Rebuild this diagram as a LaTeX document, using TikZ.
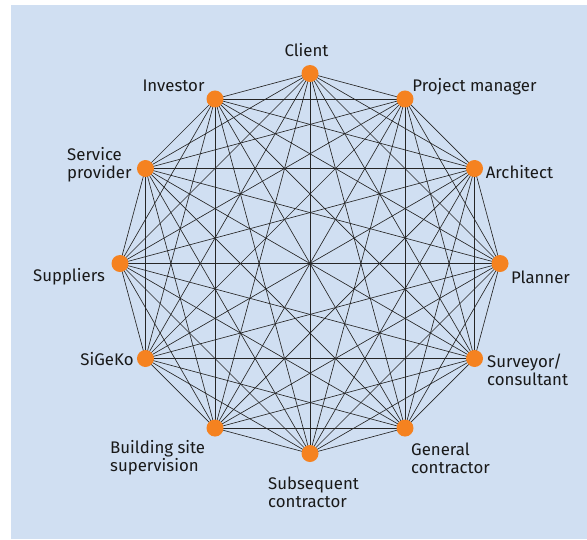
\documentclass[tikz,border=0pt]{standalone}
\usepackage{fontspec}
\setmainfont{Fira Sans}
\definecolor{bgblue}{HTML}{D0DFF2}
\definecolor{dotorange}{HTML}{F58220}
\begin{document}
\begin{tikzpicture}[x=1pt,y=-1pt,
  dot/.style={circle,fill=dotorange,inner sep=0pt,minimum size=17pt},
  edge/.style={line width=0.65pt,draw=black!85},
  lbl/.style={font=\fontsize{16.8}{18}\selectfont,inner sep=0pt,text=black!90}]
\useasboundingbox (0,0) rectangle (587,539);
\fill[bgblue] (11,5) rectangle (587,539);
\foreach \i in {0,...,11}{
  \coordinate (p\i) at ({310+190*cos(90-30*\i)},{263.5-190*sin(90-30*\i)});
}
\foreach \i in {0,...,10}{
  \pgfmathtruncatemacro{\s}{\i+1}
  \foreach \j in {\s,...,11}{
    \draw[edge] (p\i) -- (p\j);
  }
}
\foreach \i in {0,...,11}{
  \node[dot] (d\i) at (p\i) {};
}
\node[lbl,anchor=center] (l0) at (306.5,50.5) {Client};
\node[lbl,anchor=center] (l1) at (474.5,86.5) {Project manager};
\node[lbl,anchor=center] (l2) at (519.5,172.5) {Architect};
\node[lbl,anchor=center] (l3) at (540.5,277) {Planner};
\node[lbl,anchor=west,align=left] (l4) at (487,370) {Surveyor/\\consultant};
\node[lbl,anchor=west,align=left] (l5) at (411,458) {General\\contractor};
\node[lbl,anchor=west,align=left] (l6) at (268,492) {Subsequent\\contractor};
\node[lbl,anchor=west,align=left] (l7) at (110,458) {Building site\\supervision};
\node[lbl,anchor=center] (l8) at (107,359.5) {SiGeKo};
\node[lbl,anchor=center] (l9) at (69,276.5) {Suppliers};
\node[lbl,anchor=west,align=left] (l10) at (67,165) {Service\\provider};
\node[lbl,anchor=center] (l11) at (173.5,86) {Investor};
\end{tikzpicture}
\end{document}
